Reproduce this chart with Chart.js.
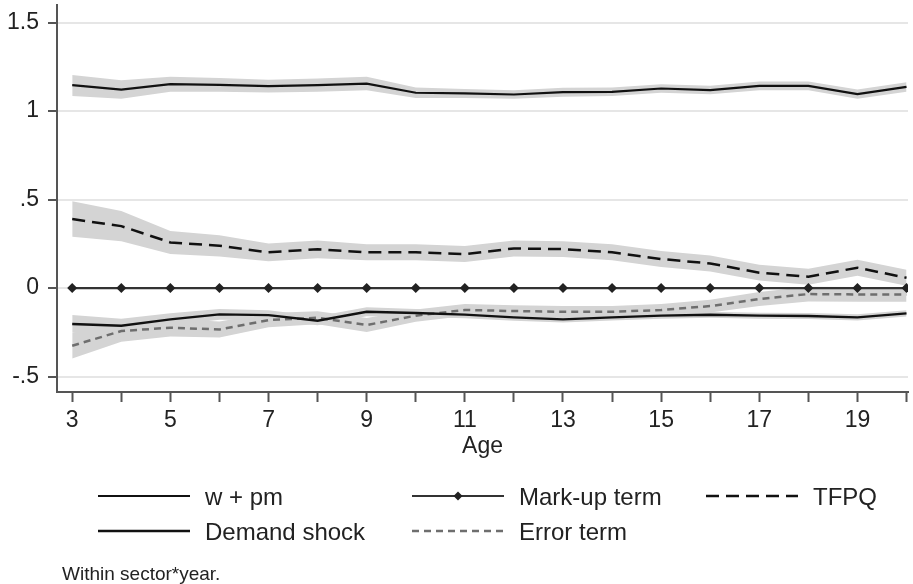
<!DOCTYPE html>
<html>
<head>
<meta charset="utf-8">
<script src="https://cdn.jsdelivr.net/npm/chart.js@4.4.0/dist/chart.umd.min.js"></script>
<style>
  html, body { margin: 0; padding: 0; background: #fff; }
  #wrap { width: 913px; height: 584px; }
</style>
</head>
<body>
<div id="wrap"><canvas id="canvas" width="913" height="584"></canvas></div>
<script>
// Werte (Alter 3..20)
const ages = [3,4,5,6,7,8,9,10,11,12,13,14,15,16,17,18,19,20];
const yTicks = [-0.5, 0, 0.5, 1, 1.5];

const wpm    = [1.147,1.122,1.153,1.149,1.141,1.147,1.156,1.104,1.100,1.094,1.107,1.109,1.128,1.119,1.143,1.143,1.096,1.137];
const wpmLo  = [1.085,1.070,1.110,1.110,1.105,1.110,1.118,1.075,1.075,1.070,1.082,1.085,1.104,1.095,1.118,1.118,1.070,1.110];
const wpmHi  = [1.205,1.175,1.195,1.188,1.178,1.184,1.194,1.133,1.125,1.118,1.132,1.133,1.152,1.143,1.168,1.168,1.122,1.164];

const markup = [0,0,0,0,0,0,0,0,0,0,0,0,0,0,0,0,0,0];

const tfpq   = [0.390,0.350,0.258,0.239,0.202,0.219,0.202,0.202,0.192,0.224,0.220,0.202,0.164,0.139,0.087,0.064,0.115,0.058];
const tfpqLo = [0.290,0.265,0.193,0.179,0.152,0.169,0.157,0.157,0.147,0.179,0.175,0.157,0.119,0.094,0.042,0.019,0.070,0.013];
const tfpqHi = [0.490,0.435,0.323,0.299,0.252,0.269,0.247,0.247,0.237,0.269,0.265,0.247,0.209,0.184,0.132,0.109,0.160,0.103];

const demand   = [-0.203,-0.213,-0.177,-0.149,-0.153,-0.185,-0.134,-0.141,-0.150,-0.166,-0.177,-0.166,-0.156,-0.151,-0.156,-0.158,-0.166,-0.143];
const demandLo = [-0.253,-0.253,-0.212,-0.179,-0.181,-0.210,-0.159,-0.164,-0.171,-0.185,-0.195,-0.184,-0.173,-0.168,-0.173,-0.175,-0.184,-0.161];
const demandHi = [-0.153,-0.173,-0.142,-0.119,-0.125,-0.160,-0.109,-0.118,-0.129,-0.147,-0.159,-0.148,-0.139,-0.134,-0.139,-0.141,-0.148,-0.125];

const errTerm   = [-0.326,-0.243,-0.224,-0.234,-0.181,-0.168,-0.209,-0.156,-0.124,-0.130,-0.134,-0.134,-0.124,-0.102,-0.062,-0.034,-0.036,-0.036];
const errTermLo = [-0.398,-0.303,-0.274,-0.279,-0.221,-0.205,-0.249,-0.191,-0.158,-0.163,-0.167,-0.167,-0.158,-0.138,-0.102,-0.076,-0.078,-0.078];
const errTermHi = [-0.254,-0.183,-0.174,-0.189,-0.141,-0.131,-0.169,-0.121,-0.090,-0.097,-0.101,-0.101,-0.090,-0.066,-0.022,0.008,0.006,0.006];

const noteText = 'Within sector*year.';

const FONT = '"Liberation Sans", Arial, sans-serif';
const bandColor = 'rgb(212,212,212)';

const pts = arr => ages.map((a, i) => ({ x: a, y: arr[i] }));

// Konfidenzband: untere Grenze + obere Grenze mit fill auf die vorherige
function band(lo, hi) {
  return [
    { data: pts(lo), borderWidth: 0, pointRadius: 0, fill: false, band: true },
    { data: pts(hi), borderWidth: 0, pointRadius: 0, fill: '-1', backgroundColor: bandColor, band: true }
  ];
}

// Chart.js zeichnet Dataset 0 zuoberst -> Linien zuerst, Baender danach
const datasets = [
  { label: 'w + pm', data: pts(wpm), borderColor: '#111', borderWidth: 2.2, pointRadius: 0, fill: false },
  { label: 'Mark-up term', data: pts(markup), borderColor: '#333', borderWidth: 2.2, fill: false,
    pointStyle: 'rectRot', pointRadius: 5, pointBackgroundColor: '#222', pointBorderWidth: 0 },
  { label: 'TFPQ', data: pts(tfpq), borderColor: '#111', borderWidth: 2.5, borderDash: [13, 7], pointRadius: 0, fill: false },
  { label: 'Demand shock', data: pts(demand), borderColor: '#111', borderWidth: 2.4, pointRadius: 0, fill: false },
  { label: 'Error term', data: pts(errTerm), borderColor: '#6e6e6e', borderWidth: 2.5, borderDash: [7, 5], pointRadius: 0, fill: false },
  ...band(wpmLo, wpmHi),
  ...band(tfpqLo, tfpqHi),
  ...band(demandLo, demandHi),
  ...band(errTermLo, errTermHi)
];

// Legende im Stata-Stil (3 Spalten) + Fussnote
const stataLegend = {
  id: 'stataLegend',
  afterDraw(chart) {
    const ctx = chart.ctx;
    const cols = [98, 412, 706];
    const rows = [496, 531];
    const len = 92;
    const items = chart.data.datasets.filter(d => !d.band);
    ctx.save();
    items.forEach((ds, i) => {
      const x0 = cols[i % 3];
      const y = rows[Math.floor(i / 3)];
      ctx.beginPath();
      ctx.setLineDash(ds.borderDash || []);
      ctx.strokeStyle = ds.borderColor;
      ctx.lineWidth = ds.borderWidth;
      ctx.moveTo(x0, y);
      ctx.lineTo(x0 + len, y);
      ctx.stroke();
      ctx.setLineDash([]);
      if (ds.pointRadius > 0) {
        const cx = x0 + len / 2, r = ds.pointRadius - 0.5;
        ctx.beginPath();
        ctx.moveTo(cx, y - r);
        ctx.lineTo(cx + r, y);
        ctx.lineTo(cx, y + r);
        ctx.lineTo(cx - r, y);
        ctx.closePath();
        ctx.fillStyle = ds.pointBackgroundColor;
        ctx.fill();
      }
      ctx.fillStyle = '#222';
      ctx.font = '24px ' + FONT;
      ctx.textBaseline = 'middle';
      ctx.textAlign = 'left';
      ctx.fillText(ds.label, x0 + len + 15, y + 2);
    });
    ctx.font = '19px ' + FONT;
    ctx.fillText(noteText, 62, 575);
    ctx.restore();
  }
};

function fmtY(v) {
  if (v === 0) return '0';
  return String(v).replace('0.', '.');
}

const chart = new Chart(document.querySelector('#canvas'), {
  type: 'line',
  data: { datasets },
  options: {
    responsive: false,
    animation: false,
    devicePixelRatio: 1,
    layout: { padding: { left: 0, right: 5, top: 5, bottom: 124 } },
    plugins: { legend: { display: false }, tooltip: { enabled: false } },
    elements: { line: { tension: 0 } },
    scales: {
      x: {
        type: 'linear',
        min: 2.69,
        max: 20.03,
        afterBuildTicks: s => { s.ticks = ages.map(v => ({ value: v })); },
        afterFit: s => { s.height = 68; s.paddingLeft = 0; s.paddingRight = 0; },
        ticks: {
          autoSkip: false,
          maxRotation: 0,
          padding: 5,
          color: '#222',
          font: { family: FONT, size: 23 },
          callback: v => (v % 2 === 1 ? String(v) : '')
        },
        grid: { drawOnChartArea: false, drawTicks: true, tickLength: 10, tickColor: '#555', tickWidth: 2 },
        border: { display: true, color: '#555', width: 2 },
        title: { display: true, text: 'Age', color: '#222', font: { family: FONT, size: 23 }, padding: 0 }
      },
      y: {
        min: -0.5876,
        max: 1.6,
        afterBuildTicks: s => { s.ticks = yTicks.map(v => ({ value: v })); },
        afterFit: s => { s.width = 57; s.paddingTop = 0; s.paddingBottom = 0; },
        ticks: {
          padding: 9,
          color: '#222',
          font: { family: FONT, size: 23 },
          callback: v => fmtY(v)
        },
        grid: { color: '#e6e6e6', lineWidth: 2, tickLength: 9, tickColor: '#555', tickWidth: 2 },
        border: { display: true, color: '#555', width: 2 }
      }
    }
  },
  plugins: [stataLegend]
});
</script>
</body>
</html>
